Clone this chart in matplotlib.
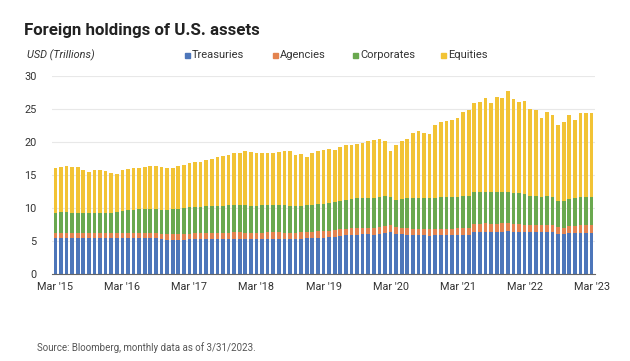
import numpy as np
import pandas as pd
import matplotlib
matplotlib.use("Agg")
import matplotlib.pyplot as plt
from matplotlib.patches import Rectangle

# Monthly data, Mar 2015 .. Mar 2023 (USD trillions)
months = pd.date_range("2015-03-01", "2023-03-01", freq="MS")

treasuries = [
    5.40, 5.42, 5.40, 5.38, 5.40, 5.43, 5.45, 5.42, 5.38, 5.38, 5.44, 5.48,
    5.46, 5.45, 5.48, 5.50, 5.46, 5.42, 5.38, 5.25, 5.18, 5.17, 5.20, 5.22,
    5.26, 5.30, 5.30, 5.32, 5.35, 5.36, 5.34, 5.33, 5.34, 5.36, 5.30, 5.28,
    5.30, 5.31, 5.32, 5.33, 5.32, 5.30, 5.28, 5.30, 5.34, 5.42, 5.45, 5.48,
    5.52, 5.58, 5.65, 5.75, 5.85, 5.95, 5.97, 6.00, 6.00, 5.98, 6.08, 6.22,
    6.35, 6.05, 6.00, 5.92, 5.88, 5.85, 5.85, 5.82, 5.84, 5.86, 5.88, 5.85,
    5.88, 5.92, 5.96, 6.35, 6.38, 6.40, 6.40, 6.40, 6.42, 6.44, 6.40, 6.38,
    6.36, 6.34, 6.33, 6.32, 6.35, 6.30, 6.10, 6.08, 6.15, 6.20, 6.25, 6.25,
    6.28,
]
agencies = [
    0.75, 0.74, 0.75, 0.76, 0.75, 0.74, 0.74, 0.75, 0.76, 0.77, 0.76, 0.75,
    0.76, 0.76, 0.77, 0.77, 0.78, 0.79, 0.80, 0.82, 0.84, 0.85, 0.86, 0.86,
    0.87, 0.88, 0.89, 0.90, 0.91, 0.92, 0.93, 0.94, 0.95, 0.95, 0.96, 0.96,
    0.97, 0.97, 0.97, 0.97, 0.98, 0.98, 0.98, 0.97, 0.96, 0.96, 0.97, 0.98,
    0.98, 0.99, 1.00, 1.00, 1.01, 1.02, 1.02, 1.03, 1.03, 1.04, 1.05, 1.08,
    1.05, 1.02, 1.01, 1.00, 0.99, 0.99, 0.99, 1.00, 1.00, 1.00, 1.01, 1.02,
    1.02, 1.02, 1.03, 1.25, 1.25, 1.26, 1.25, 1.25, 1.24, 1.22, 1.20, 1.16,
    1.12, 1.10, 1.08, 1.06, 1.08, 1.05, 0.95, 0.95, 1.05, 1.10, 1.12, 1.13,
    1.15,
]
corporates = [
    3.15, 3.16, 3.17, 3.15, 3.16, 3.12, 3.10, 3.13, 3.12, 3.10, 3.08, 3.10,
    3.40, 3.45, 3.50, 3.52, 3.55, 3.58, 3.60, 3.70, 3.75, 3.80, 3.85, 3.88,
    3.95, 3.98, 4.00, 4.02, 4.05, 4.08, 4.10, 4.12, 4.12, 4.14, 4.15, 4.12,
    4.10, 4.10, 4.12, 4.12, 4.13, 4.12, 4.10, 4.05, 4.05, 4.00, 4.10, 4.15,
    4.18, 4.25, 4.30, 4.35, 4.40, 4.42, 4.45, 4.48, 4.50, 4.50, 4.55, 4.50,
    4.20, 4.20, 4.35, 4.55, 4.65, 4.68, 4.68, 4.70, 4.75, 4.78, 4.78, 4.80,
    4.80, 4.82, 4.82, 4.80, 4.82, 4.82, 4.80, 4.80, 4.78, 4.76, 4.72, 4.68,
    4.62, 4.45, 4.40, 4.30, 4.38, 4.30, 4.05, 4.00, 4.20, 4.20, 4.30, 4.25,
    4.30,
]
equities = [
    6.80, 6.88, 6.98, 6.91, 6.89, 6.41, 6.21, 6.50, 6.54, 6.35, 6.02, 5.87,
    6.18, 6.24, 6.25, 6.21, 6.41, 6.51, 6.62, 6.43, 6.23, 6.28, 6.49, 6.54,
    6.72, 6.74, 6.81, 7.06, 7.09, 7.34, 7.53, 7.71, 7.89, 7.95, 8.19, 8.09,
    7.93, 7.92, 7.99, 7.98, 8.07, 8.30, 8.34, 7.68, 7.85, 7.42, 7.88, 7.99,
    8.12, 8.18, 7.85, 8.20, 8.24, 8.11, 8.26, 8.39, 8.67, 8.78, 8.72, 8.40,
    7.10, 8.23, 8.84, 9.03, 9.78, 10.18, 9.88, 9.68, 11.01, 11.46, 11.53, 11.73,
    11.90, 12.74, 12.99, 13.50, 13.65, 14.12, 13.45, 14.35, 14.16, 15.28, 14.18, 13.88,
    14.10, 13.06, 13.04, 12.02, 12.79, 12.45, 11.50, 12.07, 12.70, 11.80, 12.78, 12.82,
    12.72,
]

series_names = ["Treasuries", "Agencies", "Corporates", "Equities"]
colors = ["#4d76ba", "#e3834f", "#6aa84f", "#f2c335"]
tick_labels = ["Mar '15", "Mar '16", "Mar '17", "Mar '18", "Mar '19",
               "Mar '20", "Mar '21", "Mar '22", "Mar '23"]

plt.rcParams['font.family'] = ['Roboto', 'DejaVu Sans']

fig = plt.figure(figsize=(6.3, 3.61), dpi=100, facecolor="white")
ax = fig.add_axes([52 / 630, 87 / 361, 543 / 630, 198 / 361])

x = np.arange(len(months))
bottom = np.zeros(len(months))
for vals, name, col in zip([treasuries, agencies, corporates, equities], series_names, colors):
    ax.bar(x, vals, bottom=bottom, width=0.66, color=col, linewidth=0, zorder=2)
    bottom += np.array(vals)

ax.set_xlim(-0.6, len(months) - 0.4)
ax.set_ylim(0, 30)
ax.set_yticks(range(0, 31, 5))
ax.grid(axis="y", color="#e8e8e8", linewidth=0.8, zorder=0)
ax.set_axisbelow(True)
for s in ["top", "right", "left"]:
    ax.spines[s].set_visible(False)
ax.spines["bottom"].set_color("#666666")
ax.spines["bottom"].set_linewidth(0.8)
ax.tick_params(axis="both", length=0, labelsize=7.8, colors="#333333")
ax.tick_params(axis="y", pad=11)
ax.tick_params(axis="x", pad=6)

march_idx = [i for i, m in enumerate(months) if m.month == 3]
ax.set_xticks(march_idx)
ax.set_xticklabels(tick_labels)

fig.text(24 / 630, 1 - 30 / 361, "Foreign holdings of U.S. assets", fontsize=12.2,
         fontweight="bold", color="#222222", va="center", ha="left")
fig.text(27 / 630, 1 - 55 / 361, "USD (Trillions)", fontsize=7.8, style="italic",
         color="#333333", va="center", ha="left")

legend_x = [185, 273, 353, 441]
for lx, name, col in zip(legend_x, series_names, colors):
    fig.patches.append(Rectangle((lx / 630, 1 - 58 / 361), 5 / 630, 5 / 361,
                                 transform=fig.transFigure, color=col, figure=fig))
    fig.text((lx + 7) / 630, 1 - 55 / 361, name, fontsize=8, color="#333333",
             va="center", ha="left")

fig.text(37 / 630, 1 - 348 / 361, "Source: Bloomberg, monthly data as of 3/31/2023.",
         fontsize=7, color="#555555", va="center", ha="left")

fig.savefig("out.png", dpi=100, facecolor="white")
